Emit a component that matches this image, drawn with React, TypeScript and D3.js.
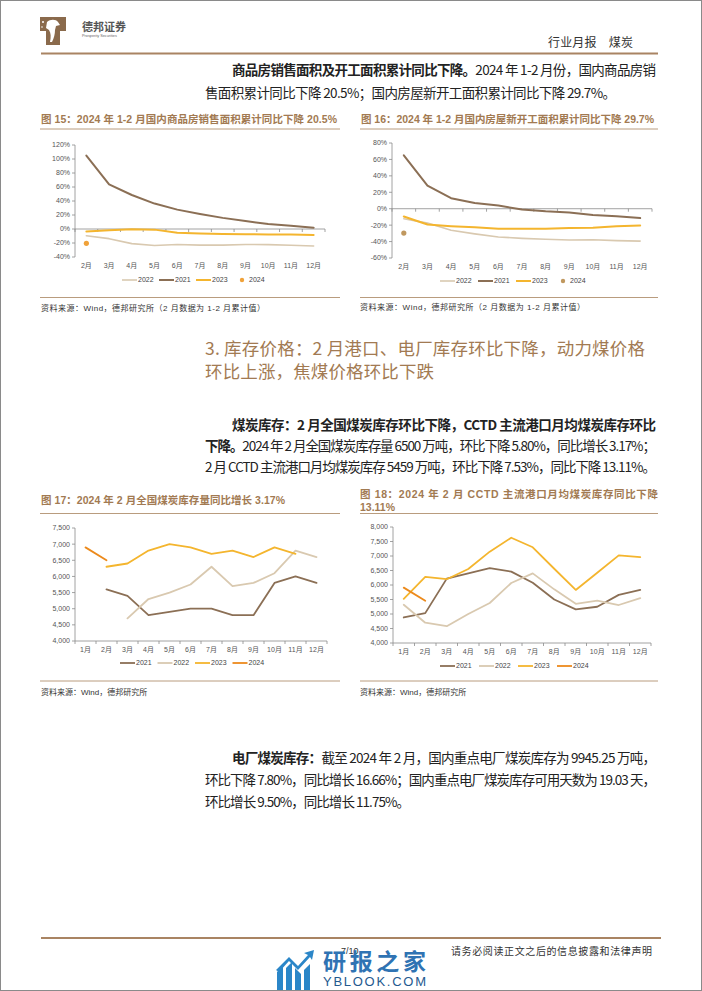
import * as d3 from "d3";

const SANS = "'Liberation Sans', 'Noto Sans CJK SC', sans-serif";
const CJK = "'Noto Sans CJK SC', 'Liberation Sans', sans-serif";

const BROWN = "#a27a52";
const RULE = "#b99c7e";

const C2021 = "#8b6f55";
const C2022 = "#d9c9b0";
const C2023 = "#f4b52e";
const C2024 = "#ec8a1c";

// 图15 / 图16 categories (cumulative, Feb = Jan-Feb)
const monthsFeb = ["2月", "3月", "4月", "5月", "6月", "7月", "8月", "9月", "10月", "11月", "12月"];
// 图17 / 图18 categories
const monthsJan = ["1月", "2月", "3月", "4月", "5月", "6月", "7月", "8月", "9月", "10月", "11月", "12月"];

// 图15 商品房销售面积累计同比 (%)
const sales2022 = [-9.6, -13.8, -20.9, -23.6, -22.2, -23.1, -23.0, -22.2, -22.3, -23.3, -24.3];
const sales2021 = [104.9, 63.8, 48.6, 36.3, 27.7, 21.5, 15.9, 11.3, 7.3, 4.8, 1.9];
const sales2023 = [-3.6, -1.8, -0.4, -0.9, -5.3, -6.5, -7.1, -7.5, -7.8, -8.0, -8.5];
const sales2024 = [-20.5];
const salesTicks = [-40, -20, 0, 20, 40, 60, 80, 100, 120];

// 图16 房屋新开工面积累计同比 (%)
const starts2022 = [-12.2, -17.5, -26.3, -30.6, -34.4, -36.1, -37.2, -38.0, -37.8, -38.9, -39.4];
const starts2021 = [64.9, 28.2, 12.8, 6.9, 3.8, -0.9, -3.2, -4.5, -7.7, -9.1, -11.4];
const starts2023 = [-9.4, -19.2, -21.2, -22.6, -24.3, -24.5, -24.4, -23.4, -23.2, -21.2, -20.4];
const starts2024 = [-29.7];
const startsTicks = [-60, -40, -20, 0, 20, 40, 60, 80];

// 图17 全国煤炭库存 (万吨)
const stock2021 = [null, 5600, 5400, 4800, 4900, 5000, 5000, 4800, 4800, 5800, 6000, 5800];
const stock2022 = [null, null, 4700, 5300, 5500, 5750, 6300, 5700, 5800, 6100, 6800, 6600];
const stock2023 = [null, 6300, 6400, 6800, 7000, 6900, 6700, 6800, 6600, 6900, 6700, null];
const stock2024 = [6900, 6500];
const stockTicks = [4000, 4500, 5000, 5500, 6000, 6500, 7000, 7500];

// 图18 CCTD 主流港口月均煤炭库存 (万吨)
const port2021 = [4880, 5030, 6220, 6400, 6580, 6460, 6080, 5500, 5160, 5250, 5660, 5830];
const port2022 = [5320, 4700, 4580, 5000, 5380, 6070, 6400, 5850, 5350, 5460, 5310, 5550];
const port2023 = [5520, 6280, 6200, 6550, 7150, 7630, 7300, 6560, 5830, 6420, 7020, 6960];
const port2024 = [5910, 5459];
const portTicks = [4000, 4500, 5000, 5500, 6000, 6500, 7000, 7500, 8000];

type Series = {
  name: string;
  values: (number | null)[];
  color: string;
  width: number;
  dot?: boolean;
};

type ChartProps = {
  left: number;
  right: number;
  top: number;
  bottom: number;
  domain: [number, number];
  ticks: number[];
  fmt: (v: number) => string;
  cats: string[];
  series: Series[];
  legend: Series[];
  axisAt: number;
  labelY: number;
  legendX: number;
  legendY: number;
  legendStep: number;
};

function LineChart(p: ChartProps) {
  const x = d3.scaleBand<string>().domain(p.cats).range([p.left, p.right]);
  const y = d3.scaleLinear().domain(p.domain).range([p.bottom, p.top]);
  const bw = x.bandwidth();
  const cx = (i: number) => (x(p.cats[i]) ?? 0) + bw / 2;
  const axisY = y(p.axisAt);
  const line = d3
    .line<number | null>()
    .defined((v) => v != null)
    .x((_, i) => cx(i))
    .y((v) => y(v as number));

  return (
    <g>
      {/* y axis */}
      <line x1={p.left} x2={p.left} y1={y(p.domain[0])} y2={y(p.domain[1])} stroke="#8c8c8c" strokeWidth={0.8} />
      {p.ticks.map((t) => (
        <g key={t}>
          <line x1={p.left - 3} x2={p.left} y1={y(t)} y2={y(t)} stroke="#8c8c8c" strokeWidth={0.8} />
          <text x={p.left - 5} y={y(t)} dy="0.35em" textAnchor="end" fontSize={7} fill="#555" fontFamily={SANS}>
            {p.fmt(t)}
          </text>
        </g>
      ))}
      {/* x axis */}
      <line x1={p.left} x2={p.right} y1={axisY} y2={axisY} stroke="#8c8c8c" strokeWidth={0.8} />
      {d3.range(p.cats.length + 1).map((i) => (
        <line key={i} x1={p.left + i * bw} x2={p.left + i * bw} y1={axisY} y2={axisY + 3} stroke="#8c8c8c" strokeWidth={0.8} />
      ))}
      {p.cats.map((c, i) => (
        <text key={c} x={cx(i)} y={p.labelY} dy="0.35em" textAnchor="middle" fontSize={7} fill="#555" fontFamily={SANS}>
          {c}
        </text>
      ))}
      {/* series */}
      {p.series.map((s) => {
        const vals = p.cats.map((_, i) => (s.values[i] === undefined ? null : s.values[i]));
        if (s.dot) {
          return (
            <g key={s.name}>
              {vals.map((v, i) =>
                v == null ? null : <circle key={i} cx={cx(i)} cy={y(v)} r={2.6} fill={s.color} />
              )}
            </g>
          );
        }
        return (
          <path key={s.name} d={line(vals) ?? ""} fill="none" stroke={s.color} strokeWidth={s.width} strokeLinejoin="round" strokeLinecap="round" />
        );
      })}
      {/* legend */}
      {p.legend.map((s, k) => {
        const lx = p.legendX + k * p.legendStep;
        return (
          <g key={s.name}>
            {s.dot ? (
              <circle cx={lx + 9} cy={p.legendY} r={2.2} fill={s.color} />
            ) : (
              <line x1={lx} x2={lx + 15} y1={p.legendY} y2={p.legendY} stroke={s.color} strokeWidth={s.width} />
            )}
            <text x={lx + 16} y={p.legendY} dy="0.35em" fontSize={7} fill="#444" fontFamily={SANS}>
              {s.name}
            </text>
          </g>
        );
      })}
    </g>
  );
}

function Title({ x, y, w, children }: { x: number; y: number; w?: number; children: string }) {
  return (
    <text x={x} y={y} dy="0.35em" fontSize={10.5} fontWeight="bold" fill={BROWN} fontFamily={SANS} textLength={w} lengthAdjust="spacing">
      {children}
    </text>
  );
}

function Source({ x, y, w, children }: { x: number; y: number; w?: number; children: string }) {
  return (
    <text x={x} y={y} dy="0.35em" fontSize={8} fill="#333" fontFamily={SANS} textLength={w} lengthAdjust="spacing">
      {children}
    </text>
  );
}

function Rule({ x1, x2, y }: { x1: number; x2: number; y: number }) {
  return <line x1={x1} x2={x2} y1={y} y2={y} stroke={RULE} strokeWidth={1} />;
}

export default function App() {
  const pct = (v: number) => `${v}%`;
  const thousands = d3.format(",");

  const s15: Series[] = [
    { name: "2022", values: sales2022, color: C2022, width: 1.6 },
    { name: "2021", values: sales2021, color: C2021, width: 2 },
    { name: "2023", values: sales2023, color: C2023, width: 2 },
    { name: "2024", values: sales2024, color: "#f0a23a", width: 2, dot: true },
  ];
  const s16: Series[] = [
    { name: "2022", values: starts2022, color: C2022, width: 1.6 },
    { name: "2021", values: starts2021, color: C2021, width: 2 },
    { name: "2023", values: starts2023, color: C2023, width: 2 },
    { name: "2024", values: starts2024, color: "#c0985f", width: 2, dot: true },
  ];
  const s17: Series[] = [
    { name: "2021", values: stock2021, color: C2021, width: 1.8 },
    { name: "2022", values: stock2022, color: C2022, width: 1.8 },
    { name: "2023", values: stock2023, color: C2023, width: 1.8 },
    { name: "2024", values: stock2024, color: C2024, width: 1.8 },
  ];
  const s18: Series[] = [
    { name: "2021", values: port2021, color: C2021, width: 1.8 },
    { name: "2022", values: port2022, color: C2022, width: 1.8 },
    { name: "2023", values: port2023, color: C2023, width: 1.8 },
    { name: "2024", values: port2024, color: C2024, width: 1.8 },
  ];

  const body = { fontSize: 13.5, fill: "#222", fontFamily: CJK } as const;

  return (
    <svg width={702} height={991} style={{ position: "absolute", left: 0, top: 0, background: "#fff" }}>
      <rect x={0.5} y={0.5} width={701} height={990} fill="#fff" stroke="#8a8a8a" strokeWidth={1} />

      {/* header */}
      <path d="M40,17 H66 V31 H60 V45 H46 V31 H40 Z" fill="#8a6a4c" />
      <path d="M47,22 C50,19 56,19 58,22 L60,25 L56,26 L55,30 C55,34 54,38 52,42 L50,42 C51,37 51,33 49,30 L46,28 Z" fill="#fff" />
      <circle cx={43} cy={22} r={1} fill="#fff" />
      <circle cx={42} cy={27} r={0.8} fill="#fff" />
      <text x={82} y={27} dy="0.35em" fontSize={11} fontWeight="bold" fill="#555" fontFamily={CJK}>
        德邦证券
      </text>
      <text x={82} y={36} dy="0.35em" fontSize={3.8} fill="#666" fontFamily={SANS}>
        Prosperity Securities
      </text>
      <text x={548} y={43} dy="0.35em" fontSize={12} fill="#333" fontFamily={CJK} textLength={85}>
        行业月报　煤炭
      </text>
      <line x1={41} x2={658} y1={53.5} y2={53.5} stroke="#a98463" strokeWidth={2} />

      {/* intro paragraph */}
      <text x={232} y={70} dy="0.35em" {...body} textLength={424}>
        <tspan fontWeight="bold">商品房销售面积及开工面积累计同比下降。</tspan>
        <tspan>2024 年 1-2 月份，国内商品房销</tspan>
      </text>
      <text x={205} y={93} dy="0.35em" {...body} textLength={411}>
        售面积累计同比下降 20.5%；国内房屋新开工面积累计同比下降 29.7%。
      </text>

      {/* 图15 */}
      <Title x={41} y={119} w={296}>图 15：2024 年 1-2 月国内商品房销售面积累计同比下降 20.5%</Title>
      <Rule x1={40} x2={340} y={129} />
      <LineChart
        left={75}
        right={325}
        top={145}
        bottom={257}
        domain={[-40, 120]}
        ticks={salesTicks}
        fmt={pct}
        cats={monthsFeb}
        series={s15}
        legend={s15}
        axisAt={0}
        labelY={266}
        legendX={122}
        legendY={280}
        legendStep={37}
      />
      <Rule x1={40} x2={340} y={297.5} />
      <Source x={41} y={308} w={224}>资料来源：Wind，德邦研究所（2 月数据为 1-2 月累计值）</Source>

      {/* 图16 */}
      <Title x={361} y={119} w={293}>图 16：2024 年 1-2 月国内房屋新开工面积累计同比下降 29.7%</Title>
      <Rule x1={360} x2={658} y={129} />
      <LineChart
        left={392}
        right={652}
        top={143}
        bottom={258}
        domain={[-60, 80]}
        ticks={startsTicks}
        fmt={pct}
        cats={monthsFeb}
        series={s16}
        legend={s16}
        axisAt={0}
        labelY={267}
        legendX={440}
        legendY={281}
        legendStep={38}
      />
      <Rule x1={360} x2={658} y={297.5} />
      <Source x={360} y={307} w={225}>资料来源：Wind，德邦研究所（2 月数据为 1-2 月累计值）</Source>

      {/* section heading */}
      <text x={205} y={349} dy="0.35em" fontSize={17.5} fill={BROWN} fontFamily={CJK} textLength={440}>
        3. 库存价格：2 月港口、电厂库存环比下降，动力煤价格
      </text>
      <text x={205} y={372} dy="0.35em" fontSize={17.5} fill={BROWN} fontFamily={CJK} textLength={229}>
        环比上涨，焦煤价格环比下跌
      </text>

      <text x={232} y={425} dy="0.35em" {...body} fontWeight="bold" textLength={424}>
        煤炭库存：2 月全国煤炭库存环比下降，CCTD 主流港口月均煤炭库存环比
      </text>
      <text x={205} y={446} dy="0.35em" {...body} textLength={451}>
        <tspan fontWeight="bold">下降。</tspan>
        <tspan>2024 年 2 月全国煤炭库存量 6500 万吨，环比下降 5.80%，同比增长 3.17%；</tspan>
      </text>
      <text x={205} y={467} dy="0.35em" {...body} textLength={451}>
        2 月 CCTD 主流港口月均煤炭库存 5459 万吨，环比下降 7.53%，同比下降 13.11%。
      </text>

      {/* 图17 */}
      <Title x={41} y={500} w={244}>图 17：2024 年 2 月全国煤炭库存量同比增长 3.17%</Title>
      <Rule x1={40} x2={340} y={513.5} />
      <LineChart
        left={75}
        right={327}
        top={528}
        bottom={641}
        domain={[4000, 7500]}
        ticks={stockTicks}
        fmt={thousands}
        cats={monthsJan}
        series={s17}
        legend={s17}
        axisAt={4000}
        labelY={649.5}
        legendX={120}
        legendY={663}
        legendStep={37.5}
      />
      <Rule x1={40} x2={340} y={681} />
      <Source x={41} y={692}>资料来源：Wind，德邦研究所</Source>

      {/* 图18 */}
      <Title x={360} y={494} w={298}>图 18：2024 年 2 月 CCTD 主流港口月均煤炭库存同比下降</Title>
      <Title x={360} y={507}>13.11%</Title>
      <Rule x1={360} x2={658} y={513.5} />
      <LineChart
        left={393}
        right={651}
        top={527}
        bottom={643}
        domain={[4000, 8000]}
        ticks={portTicks}
        fmt={thousands}
        cats={monthsJan}
        series={s18}
        legend={s18}
        axisAt={4000}
        labelY={652}
        legendX={440}
        legendY={666}
        legendStep={39}
      />
      <Rule x1={360} x2={658} y={681} />
      <Source x={360} y={692}>资料来源：Wind，德邦研究所</Source>

      {/* power plant paragraph */}
      <text x={232} y={758} dy="0.35em" {...body} textLength={424}>
        <tspan fontWeight="bold">电厂煤炭库存：</tspan>
        <tspan>截至 2024 年 2 月，国内重点电厂煤炭库存为 9945.25 万吨，</tspan>
      </text>
      <text x={205} y={780} dy="0.35em" {...body} textLength={451}>
        环比下降 7.80%，同比增长 16.66%；国内重点电厂煤炭库存可用天数为 19.03 天，
      </text>
      <text x={205} y={802} dy="0.35em" {...body} textLength={205}>
        环比增长 9.50%，同比增长 11.75%。
      </text>

      {/* footer */}
      <line x1={41} x2={661} y1={938} y2={938} stroke="#a98463" strokeWidth={2} />
      <text x={341} y={951} dy="0.35em" fontSize={9} fill="#333" fontFamily={SANS}>
        7/10
      </text>
      <text x={451} y={951} dy="0.35em" fontSize={10} fill="#333" fontFamily={CJK} textLength={201}>
        请务必阅读正文之后的信息披露和法律声明
      </text>

      {/* watermark */}
      <g fill="#2b86c8">
        <path d="M277,990 V972 L283,966 V990 Z" />
        <path d="M286,990 V968 L292,962 V990 Z" />
        <path d="M295,990 V968 L301,974 V990 Z" />
        <path d="M304,990 V970 L310,964 V990 Z" />
        <path d="M276,970 L289,957 L298,966 L308,955 L304,953 L314,950 L312,960 L310,957 L298,970 L289,961 L279,972 Z" />
      </g>
      <text x={323} y={962} dy="0.35em" fontSize={23} fontWeight="bold" fill="#2f73b3" fontFamily={CJK} textLength={103}>
        研报之家
      </text>
      <text x={323} y={981} dy="0.35em" fontSize={13} fill="#24598f" fontFamily={SANS} textLength={103}>
        YBLOOK.COM
      </text>
    </svg>
  );
}
